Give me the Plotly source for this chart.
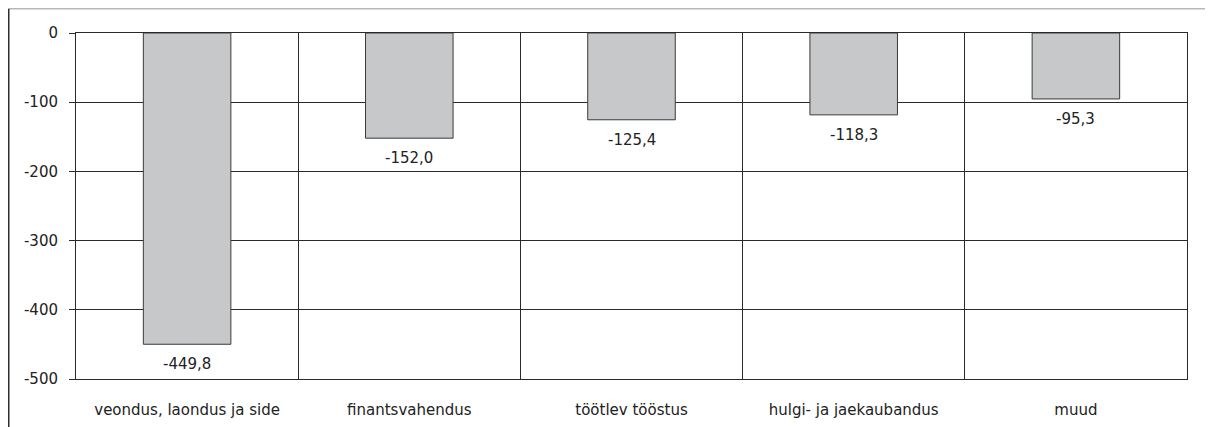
import plotly.graph_objects as go

categories = ["veondus, laondus ja side", "finantsvahendus", "töötlev tööstus",
              "hulgi- ja jaekaubandus", "muud"]
values = [-449.8, -152.0, -125.4, -118.3, -95.3]
labels = [f"{v:.1f}".replace(".", ",") for v in values]
y_ticks = [0, -100, -200, -300, -400, -500]

# page has an 8px body margin, so the figure is offset by (8, 8)
W, H = 1205, 419
L, R, T, B = 68, 26, 25, 48
pw, ph = W - L - R, H - T - B

font = dict(family="DejaVu Sans, sans-serif", size=15, color="#222222")

fig = go.Figure()
fig.add_trace(go.Bar(
    x=categories, y=values,
    width=0.394,
    marker=dict(color="#c7c8ca", line=dict(color="#3a3a3a", width=1)),
    cliponaxis=False,
))

for c, v, t in zip(categories, values, labels):
    fig.add_annotation(x=c, y=v, text=t, showarrow=False, yanchor="top",
                       yshift=-9, font=font)

fig.update_layout(
    width=W, height=H,
    margin=dict(l=L, r=R, t=T, b=B, autoexpand=False),
    paper_bgcolor="white", plot_bgcolor="white",
    font=font, showlegend=False,
    xaxis=dict(
        type="category", tickson="boundaries", showgrid=True,
        gridcolor="#2a2a2a", gridwidth=1, ticks="",
        showline=True, linecolor="#2a2a2a", linewidth=1, mirror=True,
        tickfont=font, ticklabelstandoff=17, automargin=False,
    ),
    yaxis=dict(
        range=[-500, 0], tickvals=y_ticks, ticktext=[str(v) for v in y_ticks],
        showgrid=True, gridcolor="#2a2a2a", gridwidth=1,
        ticks="outside", ticklen=6, tickcolor="#2a2a2a",
        showline=True, linecolor="#2a2a2a", linewidth=1, mirror=True,
        zeroline=False, tickfont=font, ticklabelstandoff=8, automargin=False,
    ),
    bargap=0.6,
)

# outer frame: light gray top edge, dark left edge
x_left = (0.75 - L) / pw
x_right = (1215 - L) / pw
y_top = (H - B - 0.75) / ph
y_bot = (H - B - 440) / ph
fig.add_shape(type="line", xref="paper", yref="paper", x0=x_left, x1=x_right,
              y0=y_top, y1=y_top, line=dict(color="#b8b8b8", width=1.5), layer="below")
fig.add_shape(type="line", xref="paper", yref="paper", x0=x_left, x1=x_left,
              y0=y_top, y1=y_bot, line=dict(color="#2e2e2e", width=1.5), layer="below")

fig.write_html("out.html")
